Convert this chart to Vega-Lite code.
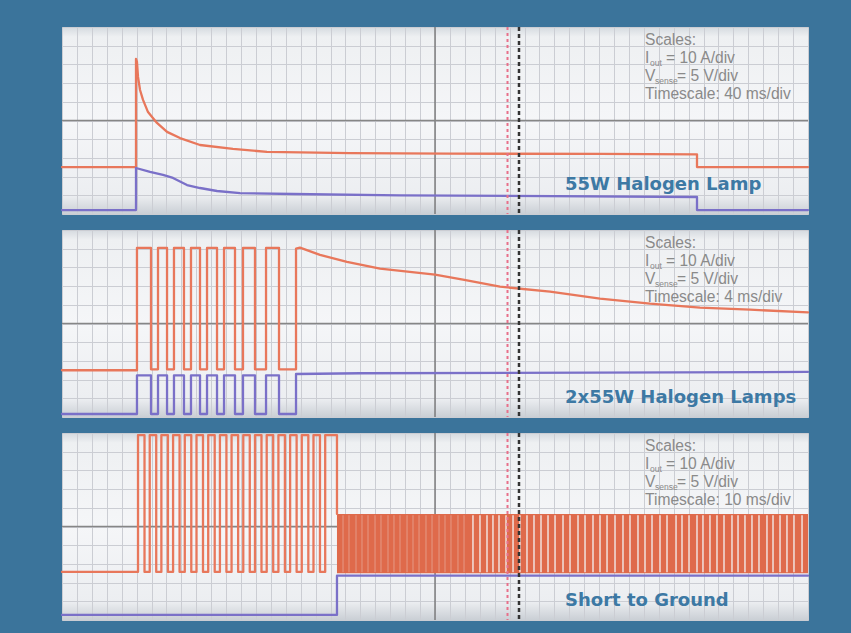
{
  "$schema": "https://vega.github.io/schema/vega-lite/v6.json",
  "background": "#3b749b",
  "padding": {"left": 60, "top": 25, "right": 43, "bottom": 13},
  "data": {"values": [{}]},
  "datasets": {
    "halogen1": [
      {"s": "Iout", "t": 0, "v": 2.51}, {"s": "Iout", "t": 0.992, "v": 2.51}, {"s": "Iout", "t": 0.992, "v": 8.29},
      {"s": "Iout", "t": 1.005, "v": 8.13}, {"s": "Iout", "t": 1.019, "v": 7.33}, {"s": "Iout", "t": 1.046, "v": 6.63},
      {"s": "Iout", "t": 1.086, "v": 6.10}, {"s": "Iout", "t": 1.153, "v": 5.45}, {"s": "Iout", "t": 1.273, "v": 4.87},
      {"s": "Iout", "t": 1.408, "v": 4.39}, {"s": "Iout", "t": 1.582, "v": 4.06}, {"s": "Iout", "t": 1.850, "v": 3.69},
      {"s": "Iout", "t": 2.292, "v": 3.48}, {"s": "Iout", "t": 2.748, "v": 3.32}, {"s": "Iout", "t": 3.861, "v": 3.26},
      {"s": "Iout", "t": 5.201, "v": 3.23}, {"s": "Iout", "t": 7.212, "v": 3.21}, {"s": "Iout", "t": 8.512, "v": 3.19},
      {"s": "Iout", "t": 8.512, "v": 2.51}, {"s": "Iout", "t": 10, "v": 2.51},
      {"s": "Vsense", "t": 0, "v": 0.21}, {"s": "Vsense", "t": 0.992, "v": 0.21}, {"s": "Vsense", "t": 0.992, "v": 2.46},
      {"s": "Vsense", "t": 1.180, "v": 2.25}, {"s": "Vsense", "t": 1.354, "v": 2.09}, {"s": "Vsense", "t": 1.488, "v": 1.93},
      {"s": "Vsense", "t": 1.676, "v": 1.55}, {"s": "Vsense", "t": 1.850, "v": 1.39}, {"s": "Vsense", "t": 2.078, "v": 1.23},
      {"s": "Vsense", "t": 2.386, "v": 1.12}, {"s": "Vsense", "t": 3.097, "v": 1.07}, {"s": "Vsense", "t": 4.531, "v": 1.0},
      {"s": "Vsense", "t": 8.512, "v": 0.91}, {"s": "Vsense", "t": 8.512, "v": 0.21}, {"s": "Vsense", "t": 10, "v": 0.21}
    ],
    "halogen2": [
      {"s": "Iout", "t": 0, "v": 2.50}, {"s": "Iout", "t": 1.005, "v": 2.50}, {"s": "Iout", "t": 1.005, "v": 9.04},
      {"s": "Iout", "t": 1.193, "v": 9.04}, {"s": "Iout", "t": 1.193, "v": 2.55}, {"s": "Iout", "t": 1.287, "v": 2.55},
      {"s": "Iout", "t": 1.287, "v": 9.04}, {"s": "Iout", "t": 1.408, "v": 9.04}, {"s": "Iout", "t": 1.408, "v": 2.55},
      {"s": "Iout", "t": 1.501, "v": 2.55}, {"s": "Iout", "t": 1.501, "v": 9.04}, {"s": "Iout", "t": 1.635, "v": 9.04},
      {"s": "Iout", "t": 1.635, "v": 2.55}, {"s": "Iout", "t": 1.729, "v": 2.55}, {"s": "Iout", "t": 1.729, "v": 9.04},
      {"s": "Iout", "t": 1.850, "v": 9.04}, {"s": "Iout", "t": 1.850, "v": 2.55}, {"s": "Iout", "t": 1.944, "v": 2.55},
      {"s": "Iout", "t": 1.944, "v": 9.04}, {"s": "Iout", "t": 2.078, "v": 9.04}, {"s": "Iout", "t": 2.078, "v": 2.55},
      {"s": "Iout", "t": 2.172, "v": 2.55}, {"s": "Iout", "t": 2.172, "v": 9.04}, {"s": "Iout", "t": 2.319, "v": 9.04},
      {"s": "Iout", "t": 2.319, "v": 2.55}, {"s": "Iout", "t": 2.426, "v": 2.55}, {"s": "Iout", "t": 2.426, "v": 9.04},
      {"s": "Iout", "t": 2.587, "v": 9.04}, {"s": "Iout", "t": 2.587, "v": 2.55}, {"s": "Iout", "t": 2.735, "v": 2.55},
      {"s": "Iout", "t": 2.735, "v": 9.04}, {"s": "Iout", "t": 2.909, "v": 9.04}, {"s": "Iout", "t": 2.909, "v": 2.55},
      {"s": "Iout", "t": 3.137, "v": 2.55}, {"s": "Iout", "t": 3.137, "v": 9.0}, {"s": "Iout", "t": 3.19, "v": 9.06},
      {"s": "Iout", "t": 3.458, "v": 8.67}, {"s": "Iout", "t": 3.820, "v": 8.30}, {"s": "Iout", "t": 4.263, "v": 7.93},
      {"s": "Iout", "t": 5.0, "v": 7.61}, {"s": "Iout", "t": 5.375, "v": 7.34}, {"s": "Iout", "t": 5.871, "v": 6.97},
      {"s": "Iout", "t": 6.542, "v": 6.70}, {"s": "Iout", "t": 7.212, "v": 6.33}, {"s": "Iout", "t": 7.882, "v": 6.06},
      {"s": "Iout", "t": 8.552, "v": 5.85}, {"s": "Iout", "t": 9.223, "v": 5.74}, {"s": "Iout", "t": 10, "v": 5.59},
      {"s": "Vsense", "t": 0, "v": 0.16}, {"s": "Vsense", "t": 1.005, "v": 0.16}, {"s": "Vsense", "t": 1.005, "v": 2.23},
      {"s": "Vsense", "t": 1.193, "v": 2.23}, {"s": "Vsense", "t": 1.193, "v": 0.16}, {"s": "Vsense", "t": 1.287, "v": 0.16},
      {"s": "Vsense", "t": 1.287, "v": 2.23}, {"s": "Vsense", "t": 1.408, "v": 2.23}, {"s": "Vsense", "t": 1.408, "v": 0.16},
      {"s": "Vsense", "t": 1.501, "v": 0.16}, {"s": "Vsense", "t": 1.501, "v": 2.23}, {"s": "Vsense", "t": 1.635, "v": 2.23},
      {"s": "Vsense", "t": 1.635, "v": 0.16}, {"s": "Vsense", "t": 1.729, "v": 0.16}, {"s": "Vsense", "t": 1.729, "v": 2.23},
      {"s": "Vsense", "t": 1.850, "v": 2.23}, {"s": "Vsense", "t": 1.850, "v": 0.16}, {"s": "Vsense", "t": 1.944, "v": 0.16},
      {"s": "Vsense", "t": 1.944, "v": 2.23}, {"s": "Vsense", "t": 2.078, "v": 2.23}, {"s": "Vsense", "t": 2.078, "v": 0.16},
      {"s": "Vsense", "t": 2.172, "v": 0.16}, {"s": "Vsense", "t": 2.172, "v": 2.23}, {"s": "Vsense", "t": 2.319, "v": 2.23},
      {"s": "Vsense", "t": 2.319, "v": 0.16}, {"s": "Vsense", "t": 2.426, "v": 0.16}, {"s": "Vsense", "t": 2.426, "v": 2.23},
      {"s": "Vsense", "t": 2.587, "v": 2.23}, {"s": "Vsense", "t": 2.587, "v": 0.16}, {"s": "Vsense", "t": 2.735, "v": 0.16},
      {"s": "Vsense", "t": 2.735, "v": 2.23}, {"s": "Vsense", "t": 2.909, "v": 2.23}, {"s": "Vsense", "t": 2.909, "v": 0.16},
      {"s": "Vsense", "t": 3.137, "v": 0.16}, {"s": "Vsense", "t": 3.137, "v": 2.30}, {"s": "Vsense", "t": 4.0, "v": 2.34},
      {"s": "Vsense", "t": 10, "v": 2.41}
    ],
    "short": [
      {"s": "Iout", "t": 0, "v": 2.57}, {"s": "Iout", "t": 1.019, "v": 2.57}, {"s": "Iout", "t": 1.019, "v": 9.89},
      {"s": "Iout", "t": 1.106, "v": 9.89}, {"s": "Iout", "t": 1.106, "v": 2.57}, {"s": "Iout", "t": 1.176, "v": 2.57},
      {"s": "Iout", "t": 1.176, "v": 9.89}, {"s": "Iout", "t": 1.263, "v": 9.89}, {"s": "Iout", "t": 1.263, "v": 2.57},
      {"s": "Iout", "t": 1.332, "v": 2.57}, {"s": "Iout", "t": 1.332, "v": 9.89}, {"s": "Iout", "t": 1.420, "v": 9.89},
      {"s": "Iout", "t": 1.420, "v": 2.57}, {"s": "Iout", "t": 1.489, "v": 2.57}, {"s": "Iout", "t": 1.489, "v": 9.89},
      {"s": "Iout", "t": 1.576, "v": 9.89}, {"s": "Iout", "t": 1.576, "v": 2.57}, {"s": "Iout", "t": 1.646, "v": 2.57},
      {"s": "Iout", "t": 1.646, "v": 9.89}, {"s": "Iout", "t": 1.733, "v": 9.89}, {"s": "Iout", "t": 1.733, "v": 2.57},
      {"s": "Iout", "t": 1.803, "v": 2.57}, {"s": "Iout", "t": 1.803, "v": 9.89}, {"s": "Iout", "t": 1.890, "v": 9.89},
      {"s": "Iout", "t": 1.890, "v": 2.57}, {"s": "Iout", "t": 1.960, "v": 2.57}, {"s": "Iout", "t": 1.960, "v": 9.89},
      {"s": "Iout", "t": 2.047, "v": 9.89}, {"s": "Iout", "t": 2.047, "v": 2.57}, {"s": "Iout", "t": 2.117, "v": 2.57},
      {"s": "Iout", "t": 2.117, "v": 9.89}, {"s": "Iout", "t": 2.204, "v": 9.89}, {"s": "Iout", "t": 2.204, "v": 2.57},
      {"s": "Iout", "t": 2.273, "v": 2.57}, {"s": "Iout", "t": 2.273, "v": 9.89}, {"s": "Iout", "t": 2.361, "v": 9.89},
      {"s": "Iout", "t": 2.361, "v": 2.57}, {"s": "Iout", "t": 2.430, "v": 2.57}, {"s": "Iout", "t": 2.430, "v": 9.89},
      {"s": "Iout", "t": 2.517, "v": 9.89}, {"s": "Iout", "t": 2.517, "v": 2.57}, {"s": "Iout", "t": 2.587, "v": 2.57},
      {"s": "Iout", "t": 2.587, "v": 9.89}, {"s": "Iout", "t": 2.674, "v": 9.89}, {"s": "Iout", "t": 2.674, "v": 2.57},
      {"s": "Iout", "t": 2.744, "v": 2.57}, {"s": "Iout", "t": 2.744, "v": 9.89}, {"s": "Iout", "t": 2.831, "v": 9.89},
      {"s": "Iout", "t": 2.831, "v": 2.57}, {"s": "Iout", "t": 2.901, "v": 2.57}, {"s": "Iout", "t": 2.901, "v": 9.89},
      {"s": "Iout", "t": 2.988, "v": 9.89}, {"s": "Iout", "t": 2.988, "v": 2.57}, {"s": "Iout", "t": 3.058, "v": 2.57},
      {"s": "Iout", "t": 3.058, "v": 9.89}, {"s": "Iout", "t": 3.145, "v": 9.89}, {"s": "Iout", "t": 3.145, "v": 2.57},
      {"s": "Iout", "t": 3.214, "v": 2.57}, {"s": "Iout", "t": 3.214, "v": 9.89}, {"s": "Iout", "t": 3.302, "v": 9.89},
      {"s": "Iout", "t": 3.302, "v": 2.57}, {"s": "Iout", "t": 3.371, "v": 2.57}, {"s": "Iout", "t": 3.371, "v": 9.89},
      {"s": "Iout", "t": 3.458, "v": 9.89}, {"s": "Iout", "t": 3.458, "v": 2.57}, {"s": "Iout", "t": 3.528, "v": 2.57},
      {"s": "Iout", "t": 3.528, "v": 9.89}, {"s": "Iout", "t": 3.686, "v": 9.89}, {"s": "Iout", "t": 3.686, "v": 5.67},
      {"s": "Vsense", "t": 0, "v": 0.27}, {"s": "Vsense", "t": 3.686, "v": 0.27}, {"s": "Vsense", "t": 3.686, "v": 2.37},
      {"s": "Vsense", "t": 10, "v": 2.37}
    ],
    "shortBand": [{"t0": 3.686, "t1": 10, "lo": 2.50, "hi": 5.67}],
    "shortGapsFaint": [
      {"t": 3.767}, {"t": 3.847}, {"t": 3.941}, {"t": 4.021}, {"t": 4.102}, {"t": 4.196}, {"t": 4.276}, {"t": 4.370},
      {"t": 4.450}, {"t": 4.531}, {"t": 4.625}, {"t": 4.705}, {"t": 4.786}, {"t": 4.879}, {"t": 4.960}, {"t": 5.054},
      {"t": 5.134}, {"t": 5.214}, {"t": 5.308}, {"t": 5.389}
    ],
    "shortGaps": [
      {"t": 5.509}, {"t": 5.603}, {"t": 5.697}, {"t": 5.777}, {"t": 5.858}, {"t": 5.952}, {"t": 6.046}, {"t": 6.139},
      {"t": 6.233}, {"t": 6.327}, {"t": 6.421}, {"t": 6.515}, {"t": 6.609}, {"t": 6.716}, {"t": 6.810}, {"t": 6.917},
      {"t": 7.011}, {"t": 7.118}, {"t": 7.212}, {"t": 7.306}, {"t": 7.413}, {"t": 7.520}, {"t": 7.614}, {"t": 7.721},
      {"t": 7.815}, {"t": 7.909}, {"t": 8.016}, {"t": 8.110}, {"t": 8.231}, {"t": 8.311}, {"t": 8.405}, {"t": 8.512},
      {"t": 8.592}, {"t": 8.686}, {"t": 8.780}, {"t": 8.874}, {"t": 8.981}, {"t": 9.062}, {"t": 9.155}, {"t": 9.249},
      {"t": 9.343}, {"t": 9.450}, {"t": 9.531}, {"t": 9.625}, {"t": 9.718}, {"t": 9.812}, {"t": 9.920}
    ]
  },
  "config": {
    "concat": {"spacing": 12},
    "view": {
      "stroke": "#8f9ba5",
      "strokeWidth": 1,
      "fill": {
        "gradient": "linear", "x1": 0, "y1": 0, "x2": 0, "y2": 1,
        "stops": [
          {"offset": 0, "color": "#d6dbe0"},
          {"offset": 0.05, "color": "#eef0f2"},
          {"offset": 0.5, "color": "#f5f6f8"},
          {"offset": 0.9, "color": "#eceef1"},
          {"offset": 1, "color": "#c9ced4"}
        ]
      }
    },
    "axis": {"labels": false, "ticks": false, "domain": false, "grid": true, "gridColor": "#cbcdd3", "gridWidth": 1, "gridOpacity": 1},
    "axisX": {"tickCount": 50},
    "axisY": {"tickCount": 10},
    "line": {"strokeWidth": 2.3, "strokeJoin": "round", "strokeCap": "round"},
    "text": {"font": "Liberation Sans", "fontSize": 15.6, "color": "#8a8a8a", "align": "left", "baseline": "alphabetic"}
  },
  "vconcat": [
    {
      "width": 746, "height": 187,
      "layer": [
        {"mark": {"type": "rule", "color": "#6f6f6f", "strokeWidth": 1.3}, "encoding": {"x": {"datum": 5, "type": "quantitative", "scale": {"domain": [0, 10], "nice": false, "zero": false}}}},
        {"mark": {"type": "rule", "color": "#868686", "strokeWidth": 1.4}, "encoding": {"y": {"datum": 5, "type": "quantitative", "scale": {"domain": [0, 10], "nice": false, "zero": false}}}},
        {
          "data": {"name": "halogen1"},
          "mark": {"type": "line"},
          "encoding": {
            "x": {"field": "t", "type": "quantitative", "title": null},
            "y": {"field": "v", "type": "quantitative", "title": null},
            "color": {"field": "s", "type": "nominal", "scale": {"domain": ["Iout", "Vsense"], "range": ["#e8775b", "#7a70c8"]}, "legend": null},
            "order": {"value": null}
          }
        },
        {"mark": {"type": "text", "text": "Scales:"}, "encoding": {"x": {"datum": 7.815, "type": "quantitative"}, "y": {"datum": 9.04, "type": "quantitative"}}},
        {"mark": {"type": "text", "text": "I"}, "encoding": {"x": {"datum": 7.815, "type": "quantitative"}, "y": {"datum": 8.07, "type": "quantitative"}}},
        {"mark": {"type": "text", "text": "out", "fontSize": 8.5, "dx": 5, "dy": 3}, "encoding": {"x": {"datum": 7.815, "type": "quantitative"}, "y": {"datum": 8.07, "type": "quantitative"}}},
        {"mark": {"type": "text", "text": "= 10 A/div", "dx": 21}, "encoding": {"x": {"datum": 7.815, "type": "quantitative"}, "y": {"datum": 8.07, "type": "quantitative"}}},
        {"mark": {"type": "text", "text": "V"}, "encoding": {"x": {"datum": 7.815, "type": "quantitative"}, "y": {"datum": 7.11, "type": "quantitative"}}},
        {"mark": {"type": "text", "text": "sense", "fontSize": 8.5, "dx": 10, "dy": 3}, "encoding": {"x": {"datum": 7.815, "type": "quantitative"}, "y": {"datum": 7.11, "type": "quantitative"}}},
        {"mark": {"type": "text", "text": "= 5 V/div", "dx": 32}, "encoding": {"x": {"datum": 7.815, "type": "quantitative"}, "y": {"datum": 7.11, "type": "quantitative"}}},
        {"mark": {"type": "text", "text": "Timescale: 40 ms/div"}, "encoding": {"x": {"datum": 7.815, "type": "quantitative"}, "y": {"datum": 6.15, "type": "quantitative"}}},
        {"mark": {"type": "text", "text": "55W Halogen Lamp", "font": "DejaVu Sans", "fontWeight": "bold", "fontSize": 18, "color": "#3d79a4"}, "encoding": {"x": {"datum": 6.743, "type": "quantitative"}, "y": {"datum": 1.28, "type": "quantitative"}}},
        {"mark": {"type": "rule", "color": "#e8708a", "strokeWidth": 2, "strokeDash": [3, 3]}, "encoding": {"x": {"datum": 5.972, "type": "quantitative"}}},
        {"mark": {"type": "rule", "color": "#333333", "strokeWidth": 2.5, "strokeDash": [4, 3]}, "encoding": {"x": {"datum": 6.126, "type": "quantitative"}}}
      ]
    },
    {
      "width": 746, "height": 187,
      "layer": [
        {"mark": {"type": "rule", "color": "#6f6f6f", "strokeWidth": 1.3}, "encoding": {"x": {"datum": 5, "type": "quantitative", "scale": {"domain": [0, 10], "nice": false, "zero": false}}}},
        {"mark": {"type": "rule", "color": "#868686", "strokeWidth": 1.4}, "encoding": {"y": {"datum": 5, "type": "quantitative", "scale": {"domain": [0, 10], "nice": false, "zero": false}}}},
        {
          "data": {"name": "halogen2"},
          "mark": {"type": "line"},
          "encoding": {
            "x": {"field": "t", "type": "quantitative", "title": null},
            "y": {"field": "v", "type": "quantitative", "title": null},
            "color": {"field": "s", "type": "nominal", "scale": {"domain": ["Iout", "Vsense"], "range": ["#e8775b", "#7a70c8"]}, "legend": null},
            "order": {"value": null}
          }
        },
        {"mark": {"type": "text", "text": "Scales:"}, "encoding": {"x": {"datum": 7.815, "type": "quantitative"}, "y": {"datum": 9.04, "type": "quantitative"}}},
        {"mark": {"type": "text", "text": "I"}, "encoding": {"x": {"datum": 7.815, "type": "quantitative"}, "y": {"datum": 8.07, "type": "quantitative"}}},
        {"mark": {"type": "text", "text": "out", "fontSize": 8.5, "dx": 5, "dy": 3}, "encoding": {"x": {"datum": 7.815, "type": "quantitative"}, "y": {"datum": 8.07, "type": "quantitative"}}},
        {"mark": {"type": "text", "text": "= 10 A/div", "dx": 21}, "encoding": {"x": {"datum": 7.815, "type": "quantitative"}, "y": {"datum": 8.07, "type": "quantitative"}}},
        {"mark": {"type": "text", "text": "V"}, "encoding": {"x": {"datum": 7.815, "type": "quantitative"}, "y": {"datum": 7.11, "type": "quantitative"}}},
        {"mark": {"type": "text", "text": "sense", "fontSize": 8.5, "dx": 10, "dy": 3}, "encoding": {"x": {"datum": 7.815, "type": "quantitative"}, "y": {"datum": 7.11, "type": "quantitative"}}},
        {"mark": {"type": "text", "text": "= 5 V/div", "dx": 32}, "encoding": {"x": {"datum": 7.815, "type": "quantitative"}, "y": {"datum": 7.11, "type": "quantitative"}}},
        {"mark": {"type": "text", "text": "Timescale: 4 ms/div"}, "encoding": {"x": {"datum": 7.815, "type": "quantitative"}, "y": {"datum": 6.15, "type": "quantitative"}}},
        {"mark": {"type": "text", "text": "2x55W Halogen Lamps", "font": "DejaVu Sans", "fontWeight": "bold", "fontSize": 18, "color": "#3d79a4"}, "encoding": {"x": {"datum": 6.743, "type": "quantitative"}, "y": {"datum": 0.75, "type": "quantitative"}}},
        {"mark": {"type": "rule", "color": "#e8708a", "strokeWidth": 2, "strokeDash": [3, 3]}, "encoding": {"x": {"datum": 5.972, "type": "quantitative"}}},
        {"mark": {"type": "rule", "color": "#333333", "strokeWidth": 2.5, "strokeDash": [4, 3]}, "encoding": {"x": {"datum": 6.126, "type": "quantitative"}}}
      ]
    },
    {
      "width": 746, "height": 187,
      "layer": [
        {"mark": {"type": "rule", "color": "#6f6f6f", "strokeWidth": 1.3}, "encoding": {"x": {"datum": 5, "type": "quantitative", "scale": {"domain": [0, 10], "nice": false, "zero": false}}}},
        {"mark": {"type": "rule", "color": "#868686", "strokeWidth": 1.4}, "encoding": {"y": {"datum": 5, "type": "quantitative", "scale": {"domain": [0, 10], "nice": false, "zero": false}}}},
        {
          "data": {"name": "shortBand"},
          "mark": {"type": "rect", "color": "#df6a4b"},
          "encoding": {
            "x": {"field": "t0", "type": "quantitative", "title": null},
            "x2": {"field": "t1"},
            "y": {"field": "lo", "type": "quantitative", "title": null},
            "y2": {"field": "hi"}
          }
        },
        {
          "data": {"name": "shortGapsFaint"},
          "mark": {"type": "rule", "color": "#f3eded", "strokeWidth": 1.2, "opacity": 0.3},
          "encoding": {
            "x": {"field": "t", "type": "quantitative", "title": null},
            "y": {"datum": 2.56, "type": "quantitative"},
            "y2": {"datum": 5.6}
          }
        },
        {
          "data": {"name": "shortGaps"},
          "mark": {"type": "rule", "color": "#f3eded", "strokeWidth": 1.5, "opacity": 0.9},
          "encoding": {
            "x": {"field": "t", "type": "quantitative", "title": null},
            "y": {"datum": 2.56, "type": "quantitative"},
            "y2": {"datum": 5.6}
          }
        },
        {
          "data": {"name": "short"},
          "mark": {"type": "line"},
          "encoding": {
            "x": {"field": "t", "type": "quantitative", "title": null},
            "y": {"field": "v", "type": "quantitative", "title": null},
            "color": {"field": "s", "type": "nominal", "scale": {"domain": ["Iout", "Vsense"], "range": ["#e8775b", "#7a70c8"]}, "legend": null},
            "order": {"value": null}
          }
        },
        {"mark": {"type": "text", "text": "Scales:"}, "encoding": {"x": {"datum": 7.815, "type": "quantitative"}, "y": {"datum": 9.04, "type": "quantitative"}}},
        {"mark": {"type": "text", "text": "I"}, "encoding": {"x": {"datum": 7.815, "type": "quantitative"}, "y": {"datum": 8.07, "type": "quantitative"}}},
        {"mark": {"type": "text", "text": "out", "fontSize": 8.5, "dx": 5, "dy": 3}, "encoding": {"x": {"datum": 7.815, "type": "quantitative"}, "y": {"datum": 8.07, "type": "quantitative"}}},
        {"mark": {"type": "text", "text": "= 10 A/div", "dx": 21}, "encoding": {"x": {"datum": 7.815, "type": "quantitative"}, "y": {"datum": 8.07, "type": "quantitative"}}},
        {"mark": {"type": "text", "text": "V"}, "encoding": {"x": {"datum": 7.815, "type": "quantitative"}, "y": {"datum": 7.11, "type": "quantitative"}}},
        {"mark": {"type": "text", "text": "sense", "fontSize": 8.5, "dx": 10, "dy": 3}, "encoding": {"x": {"datum": 7.815, "type": "quantitative"}, "y": {"datum": 7.11, "type": "quantitative"}}},
        {"mark": {"type": "text", "text": "= 5 V/div", "dx": 32}, "encoding": {"x": {"datum": 7.815, "type": "quantitative"}, "y": {"datum": 7.11, "type": "quantitative"}}},
        {"mark": {"type": "text", "text": "Timescale: 10 ms/div"}, "encoding": {"x": {"datum": 7.815, "type": "quantitative"}, "y": {"datum": 6.15, "type": "quantitative"}}},
        {"mark": {"type": "text", "text": "Short to Ground", "font": "DejaVu Sans", "fontWeight": "bold", "fontSize": 18, "color": "#3d79a4"}, "encoding": {"x": {"datum": 6.743, "type": "quantitative"}, "y": {"datum": 0.75, "type": "quantitative"}}},
        {"mark": {"type": "rule", "color": "#e8708a", "strokeWidth": 2, "strokeDash": [3, 3]}, "encoding": {"x": {"datum": 5.972, "type": "quantitative"}}},
        {"mark": {"type": "rule", "color": "#333333", "strokeWidth": 2.5, "strokeDash": [4, 3]}, "encoding": {"x": {"datum": 6.126, "type": "quantitative"}}}
      ]
    }
  ]
}
